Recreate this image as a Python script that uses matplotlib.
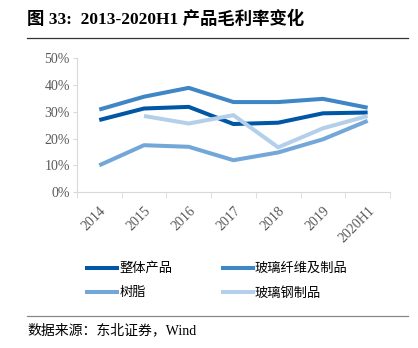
import numpy as np
import matplotlib.pyplot as plt
from matplotlib.lines import Line2D

plt.rcParams['font.family'] = ['Liberation Serif', 'Noto Sans CJK SC']

years = ['2014', '2015', '2016', '2017', '2018', '2019', '2020H1']
overall = [26.9, 31.2, 31.8, 25.4, 25.9, 29.4, 29.7]
fiber = [30.8, 35.6, 38.9, 33.6, 33.6, 34.8, 31.5]
resin = [10.0, 17.5, 16.9, 11.9, 14.8, 19.7, 26.6]
frp = [np.nan, 28.4, 25.6, 28.7, 16.7, 23.8, 28.4]

names = ['整体产品', '玻璃纤维及制品', '树脂', '玻璃钢制品']
colors = ['#0057A6', '#3F86C6', '#72A7D8', '#B3CFEA']

fig = plt.figure(figsize=(4.18, 3.48), dpi=100)
ax = fig.add_axes([0.184, 0.448, 0.749, 0.385])

x = np.arange(len(years))
for vals, c, n in zip([overall, fiber, resin, frp], colors, names):
    ax.plot(x, vals, color=c, lw=2.9, label=n, solid_capstyle='butt')

ax.set_xlim(-0.5, len(years) - 0.5)
ax.set_ylim(0, 50)
ax.set_yticks(np.arange(0, 51, 10))
ax.set_yticklabels([f'{v}%' for v in range(0, 51, 10)])
ax.set_xticks(x)
ax.set_xticklabels(years, rotation=45, ha='right', rotation_mode='anchor')
ax.set_xticks(np.arange(-0.5, len(years), 1), minor=True)
ax.tick_params(axis='x', which='major', length=0, pad=9, labelsize=10, labelcolor='#595959')
ax.tick_params(axis='x', which='minor', length=4, color='#D9D9D9')
ax.tick_params(axis='y', length=3, color='#D9D9D9', labelsize=10, labelcolor='#595959', pad=2)

for s in ['top', 'right']:
    ax.spines[s].set_visible(False)
ax.spines['left'].set_color('#D9D9D9')
ax.spines['bottom'].set_color('#D9D9D9')

# title
fig.text(0.065, 0.945, '图 33:  2013-2020H1 产品毛利率变化', fontsize=12.5, fontweight='bold',
         va='center', ha='left')
fig.add_artist(Line2D([0.065, 0.976], [0.89, 0.89], color='#333333', lw=0.9))

# legend (column-wise fill -> reorder so rows read left to right)
order = [0, 2, 1, 3]
handles = [Line2D([], [], color=colors[i], lw=2.9) for i in order]
labels = [names[i] for i in order]
leg = fig.legend(handles, labels, loc='center left', bbox_to_anchor=(0.18, 0.193), ncol=2,
                 frameon=False, handlelength=2.3, handletextpad=0.15,
                 columnspacing=3.8, labelspacing=0.85, prop={'family': ['Noto Sans CJK SC'], 'size': 9.5})

fig.add_artist(Line2D([0.065, 0.976], [0.092, 0.092], color='#888888', lw=0.9))
fig.text(0.065, 0.05, '数据来源：东北证券，Wind', fontsize=10, va='center', ha='left',
         family=['Liberation Serif', 'Noto Sans CJK SC'])

fig.savefig('out.png', dpi=100)
